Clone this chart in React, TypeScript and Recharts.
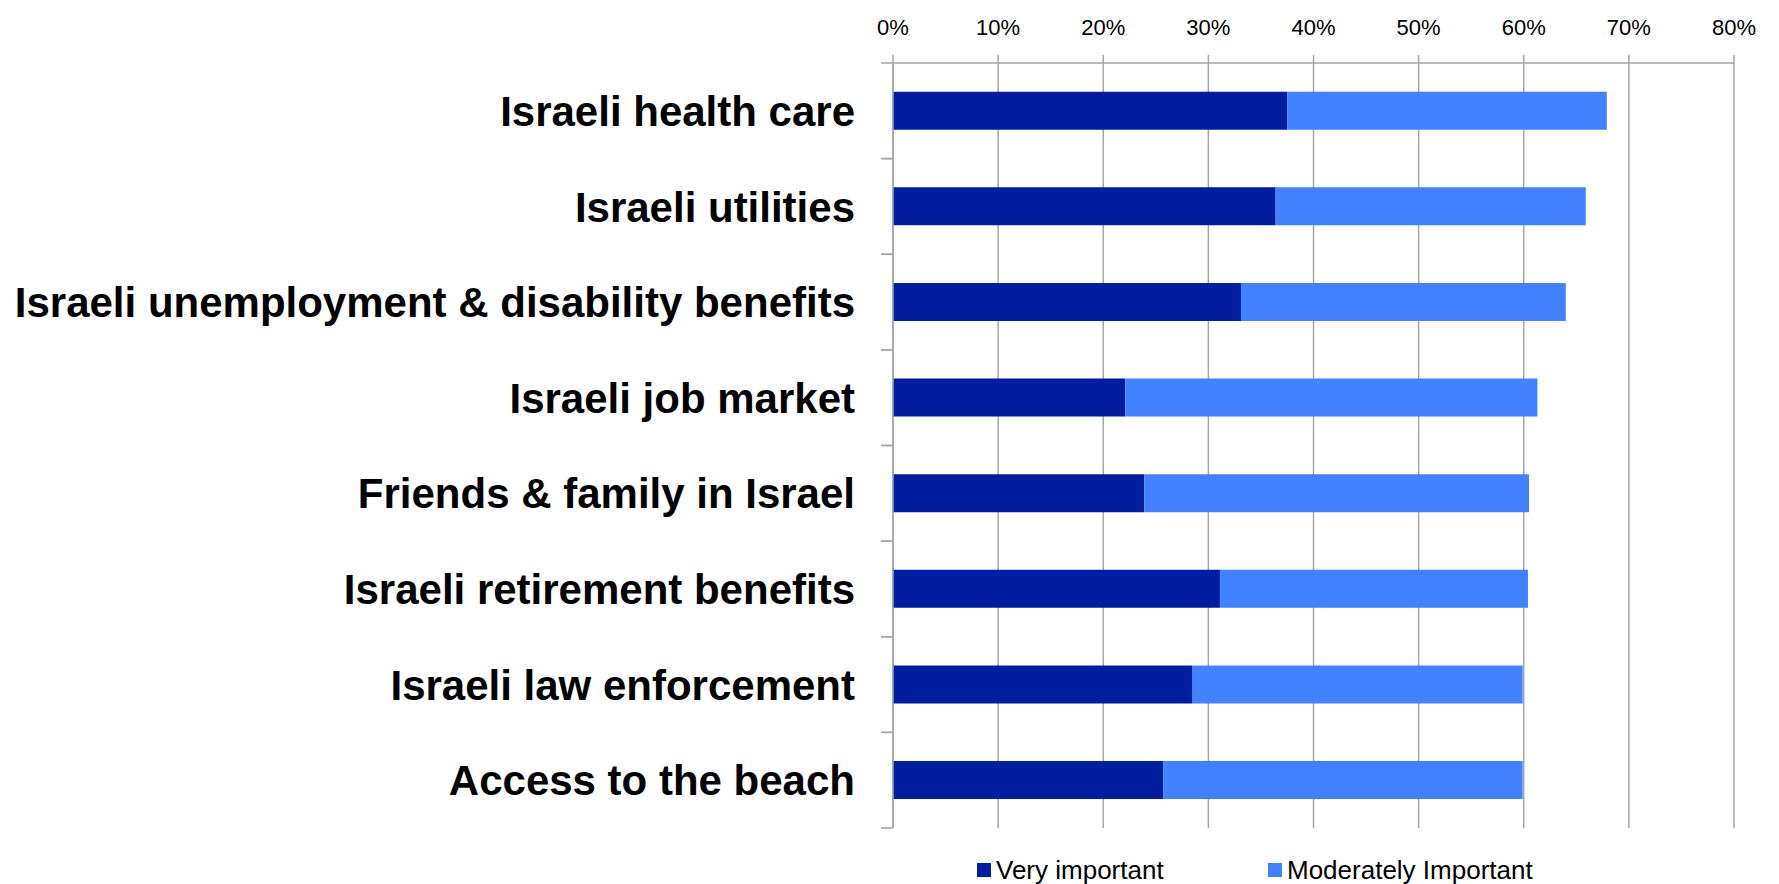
import React from "react";
import {
  BarChart,
  Bar,
  XAxis,
  YAxis,
  CartesianGrid,
  Legend,
} from "recharts";

// categories, top to bottom
const categories = [
  "Israeli health care",
  "Israeli utilities",
  "Israeli unemployment & disability benefits",
  "Israeli job market",
  "Friends & family in Israel",
  "Israeli retirement benefits",
  "Israeli law enforcement",
  "Access to the beach",
];

// percent of respondents
const veryImportant = [37.5, 36.4, 33.1, 22.1, 23.9, 31.1, 28.5, 25.7];
const moderatelyImportant = [30.4, 29.5, 30.9, 39.2, 36.6, 29.3, 31.4, 34.2];

const percentTicks = [0, 10, 20, 30, 40, 50, 60, 70, 80];

const seriesNames = ["Very important", "Moderately Important"];
const DARK = "#001E9F";
const LIGHT = "#4281FF";
const GRID = "#A6A6A6";

const data = categories.map((name, i) => ({
  name,
  very: veryImportant[i],
  moderate: moderatelyImportant[i],
}));

// category label plus tick marks on the band edges (like Excel)
const CategoryTick = (props: any) => {
  const { x, y, payload } = props;
  const half = payload?.offset ?? 0;
  const axisX = x + 26 + 12;
  return (
    <g>
      <line x1={axisX - 12} x2={axisX} y1={y - half} y2={y - half} stroke={GRID} strokeWidth={1.5} />
      <line x1={axisX - 12} x2={axisX} y1={y + half} y2={y + half} stroke={GRID} strokeWidth={1.5} />
      <text
        x={x}
        y={y}
        dy="0.36em"
        textAnchor="end"
        fontSize={42}
        fontWeight="bold"
        fill="#000"
      >
        {payload.value}
      </text>
    </g>
  );
};

const LegendContent = (props: any) => {
  // keep the series order of the original legend
  const items = [...(props.payload || [])].sort(
    (a: any, b: any) => seriesNames.indexOf(a.value) - seriesNames.indexOf(b.value)
  );
  return (
    <div style={{ height: 56, position: "relative" }}>
      <div
        style={{
          position: "absolute",
          top: 28,
          left: 977,
          height: 28,
          display: "flex",
          alignItems: "center",
        }}
      >
        {items.map((entry: any, i: number) => (
          <div
            key={`leg-${i}`}
            style={{
              display: "flex",
              alignItems: "center",
              width: i === 0 ? 291 : "auto",
            }}
          >
            <span
              style={{
                display: "inline-block",
                width: 14,
                height: 14,
                background: entry.color,
                marginRight: 5,
              }}
            />
            <span style={{ fontSize: 26, color: "#000", lineHeight: "28px" }}>
              {entry.value}
            </span>
          </div>
        ))}
      </div>
    </div>
  );
};

export default function App() {
  return (
    <div
      style={{
        position: "absolute",
        left: 0,
        top: 0,
        fontFamily: '"Liberation Sans", Arial, sans-serif',
        background: "#fff",
      }}
    >
      <BarChart
        width={1779}
        height={884}
        data={data}
        layout="vertical"
        barCategoryGap="30%"
        margin={{ top: 0, right: 45, bottom: 0, left: 0 }}
      >
        <CartesianGrid
          horizontal={false}
          vertical={true}
          stroke={GRID}
          strokeWidth={1.5}
        />
        <XAxis
          type="number"
          orientation="top"
          domain={[0, 80]}
          ticks={percentTicks}
          tickFormatter={(v: number) => `${v}%`}
          height={63}
          axisLine={{ stroke: GRID, strokeWidth: 1.5 }}
          tickLine={{ stroke: GRID, strokeWidth: 1.5 }}
          tickSize={8}
          tickMargin={20}
          tick={{ fontSize: 22, fill: "#000" }}
          interval={0}
        />
        <YAxis
          type="category"
          dataKey="name"
          width={893}
          axisLine={{ stroke: GRID, strokeWidth: 1.5 }}
          tickLine={false}
          tickSize={12}
          tickMargin={26}
          tick={<CategoryTick />}
          interval={0}
        />
        <Legend
          verticalAlign="bottom"
          content={<LegendContent />}
          wrapperStyle={{ left: 0, width: 1779 }}
        />
        <Bar
          dataKey="very"
          name={seriesNames[0]}
          stackId="a"
          fill={DARK}
          isAnimationActive={false}
        />
        <Bar
          dataKey="moderate"
          name={seriesNames[1]}
          stackId="a"
          fill={LIGHT}
          isAnimationActive={false}
        />
      </BarChart>
    </div>
  );
}
